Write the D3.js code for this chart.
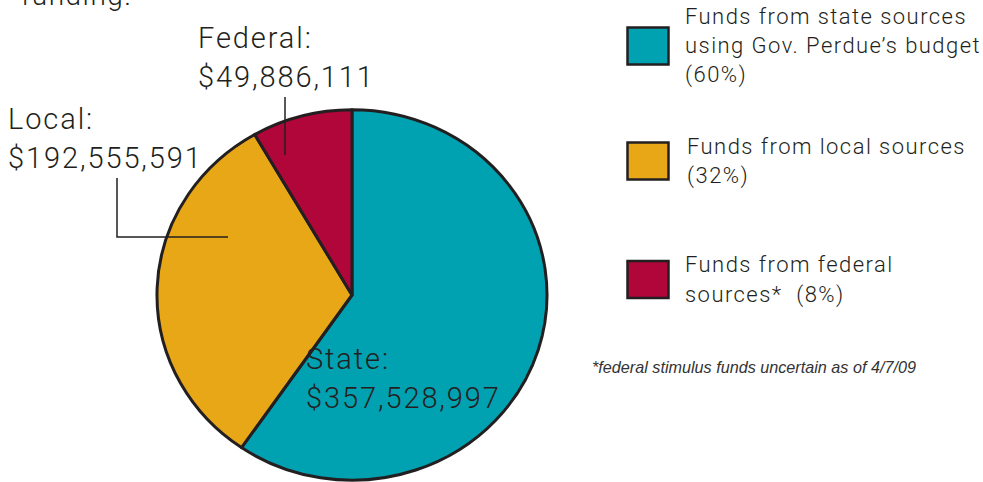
<!DOCTYPE html>
<html>
<head>
<meta charset="utf-8">
<script src="https://cdn.jsdelivr.net/npm/d3@7"></script>
<style>
  html, body { margin: 0; padding: 0; background: #fff; }
  svg { display: block; }
</style>
</head>
<body>
<svg id="chart" width="983" height="482"></svg>
<script>
// ---- data ----
const categories = ["State", "Local", "Federal"];
const amounts = [357528997, 192555591, 49886111];
const amountLabels = ["$357,528,997", "$192,555,591", "$49,886,111"];
const legendLines = [
  ["Funds from state sources", "using Gov. Perdue\u2019s budget", "(60%)"],
  ["Funds from local sources", "(32%)"],
  ["Funds from federal", "sources*\u00a0 (8%)"]
];
const colors = ["#00a1b1", "#e7a717", "#b0063a"];
const footnote = "*federal stimulus funds uncertain as of 4/7/09";
const topText = "funding.";

// ---- layout ----
const svg = d3.select("#chart");
const ink = "#231f20";
const cx = 352, cy = 295, R = 195, squash = 0.95;
const labelFont = "Roboto, 'Liberation Sans', sans-serif";

svg.append("text")
  .attr("x", 21).attr("y", 5)
  .attr("font-family", labelFont).attr("font-weight", 300)
  .attr("font-size", 28).attr("letter-spacing", 1.5).attr("fill", ink)
  .text(topText);

const pie = d3.pie().sort(null).startAngle(0).endAngle(2 * Math.PI).value(d => d);
const arcs = pie(amounts);
const arc = d3.arc().innerRadius(0).outerRadius(R);

const g = svg.append("g").attr("transform", `translate(${cx},${cy}) scale(1,${squash})`);
g.selectAll("path.slice")
  .data(arcs)
  .join("path")
  .attr("class", "slice")
  .attr("d", arc)
  .attr("fill", (d, i) => colors[i])
  .attr("stroke", ink)
  .attr("stroke-width", 3)
  .attr("stroke-linejoin", "round")
  .attr("vector-effect", "non-scaling-stroke");

// leader lines (annotation layout)
svg.append("polyline")
  .attr("points", "285,97 285,155")
  .attr("fill", "none").attr("stroke", ink).attr("stroke-width", 1.5);
svg.append("polyline")
  .attr("points", "117,178 117,237 228,237")
  .attr("fill", "none").attr("stroke", ink).attr("stroke-width", 1.5);

// slice labels
const labelPos = [
  { x: 306, y1: 369, y2: 408 },
  { x: 8, y1: 129, y2: 168 },
  { x: 198, y1: 48, y2: 87 }
];
categories.forEach((c, i) => {
  const t = svg.append("text")
    .attr("font-family", labelFont).attr("font-weight", 300)
    .attr("font-size", 29).attr("letter-spacing", 1.9).attr("fill", ink);
  t.append("tspan").attr("x", labelPos[i].x).attr("y", labelPos[i].y1).text(c + ":");
  t.append("tspan").attr("x", labelPos[i].x).attr("y", labelPos[i].y2).text(amountLabels[i]);
});

// legend
const legendPos = [
  { box: 27.5, tx: 685, base: [23.5, 53, 82] },
  { box: 142.5, tx: 687, base: [153.5, 183] },
  { box: 261, tx: 685, base: [272, 301.5] }
];
legendLines.forEach((lines, i) => {
  svg.append("rect")
    .attr("x", 627.5).attr("y", legendPos[i].box)
    .attr("width", 41).attr("height", 37)
    .attr("fill", colors[i]).attr("stroke", ink).attr("stroke-width", 2.5);
  const t = svg.append("text")
    .attr("font-family", labelFont).attr("font-weight", 300)
    .attr("font-size", 22).attr("letter-spacing", 1.45).attr("fill", ink);
  lines.forEach((l, j) => {
    t.append("tspan").attr("x", legendPos[i].tx).attr("y", legendPos[i].base[j]).text(l);
  });
});

svg.append("text")
  .attr("x", 592).attr("y", 373)
  .attr("font-family", "'Liberation Sans Narrow', 'Liberation Sans', sans-serif")
  .attr("font-style", "italic")
  .attr("font-size", 16.2).attr("fill", "#333")
  .text(footnote);
</script>
</body>
</html>
